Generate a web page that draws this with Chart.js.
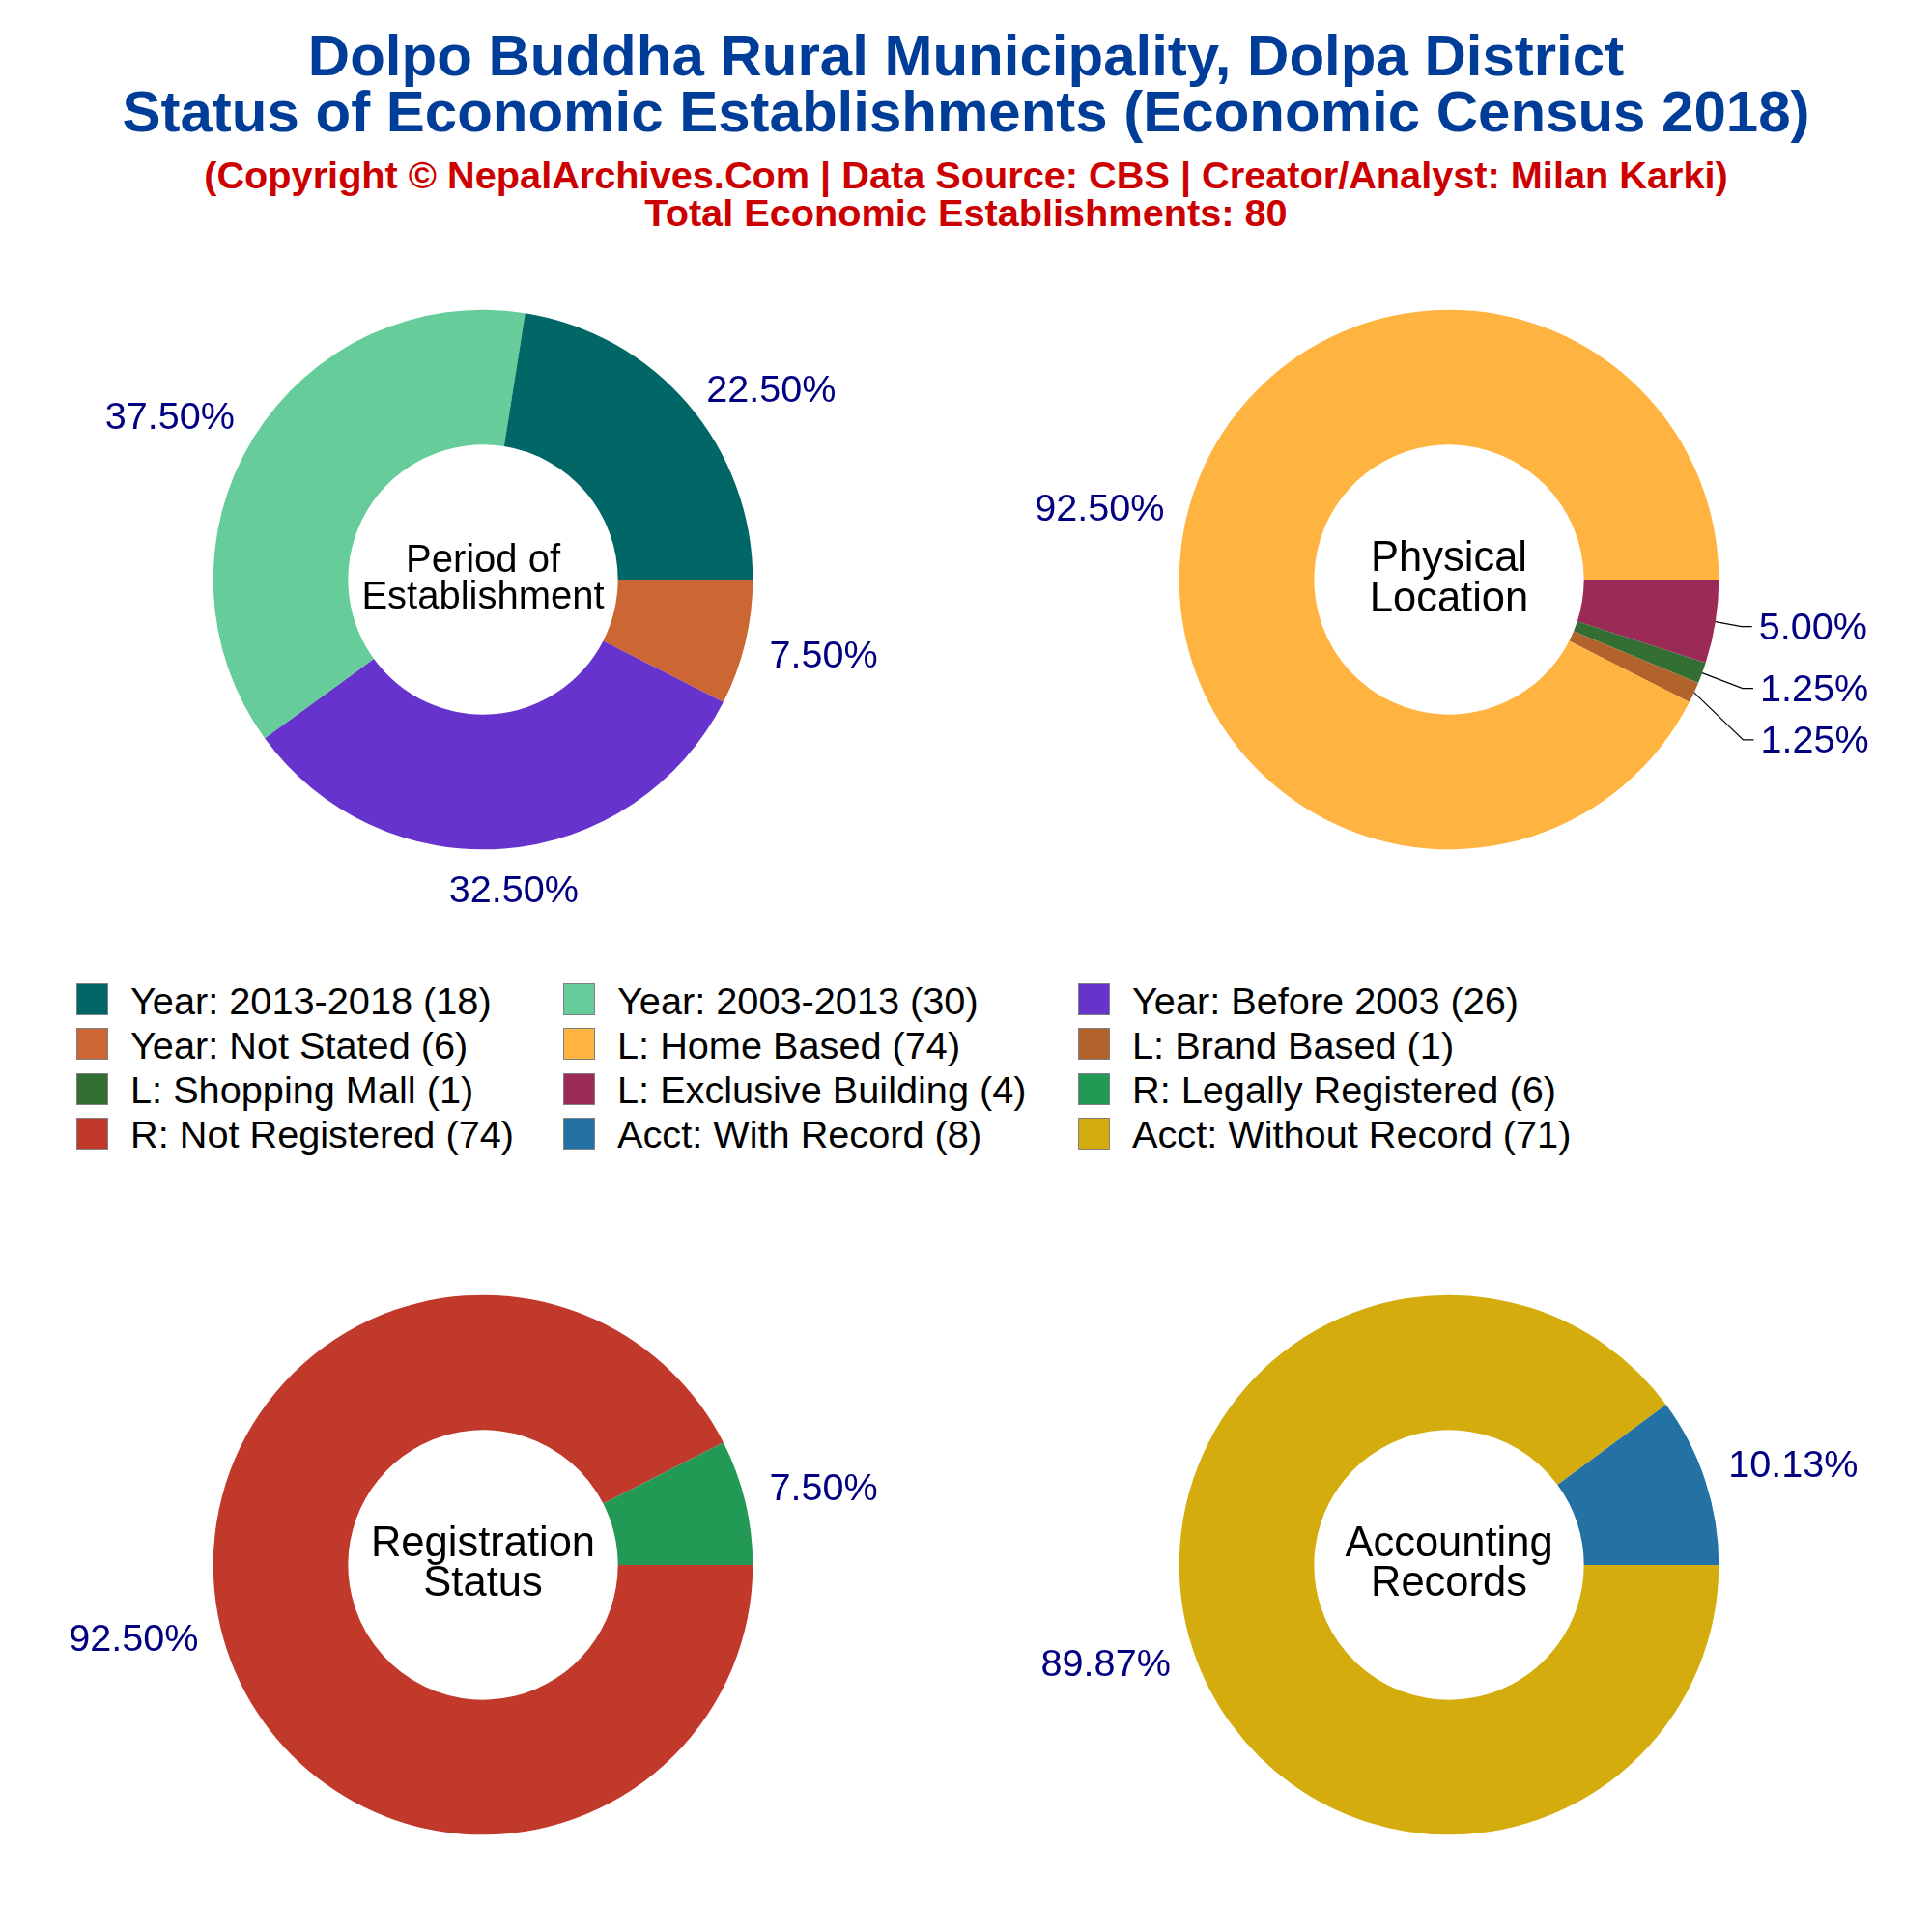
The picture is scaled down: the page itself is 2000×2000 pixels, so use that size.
<!DOCTYPE html>
<html>
<head>
<meta charset="utf-8">
<title>Dolpo Buddha Rural Municipality</title>
<script src="https://cdn.jsdelivr.net/npm/chart.js@4"></script>
<style>
  html, body { margin: 0; padding: 0; background: #fff; }
  #page { position: relative; width: 2000px; height: 2000px; overflow: hidden; font-family: "Liberation Sans", Arial, sans-serif; }
  #page canvas { position: absolute; }
  .head { position: absolute; left: 0; width: 2000px; text-align: center; font-weight: bold; white-space: nowrap; transform: translateY(-50%); }
  .title { font-size: 60px; color: #003d99; }
  .sub { font-size: 39.7px; color: #cc0000; }
  .key { position: absolute; width: 33px; height: 33px; border: 1px solid #808080; box-sizing: border-box; }
  .keytext { position: absolute; font-size: 39.7px; color: #000; white-space: nowrap; transform: translateY(-50%); }
</style>
</head>
<body>
<div id="page">
  <div class="head title" style="top:57px">Dolpo Buddha Rural Municipality, Dolpa District</div>
  <div class="head title" style="top:115px">Status of Economic Establishments (Economic Census 2018)</div>
  <div class="head sub" style="top:181px">(Copyright © NepalArchives.Com | Data Source: CBS | Creator/Analyst: Milan Karki)</div>
  <div class="head sub" style="top:220px">Total Economic Establishments: 80</div>
</div>
<script>
// categories, values and colours of each donut, in counter-clockwise order from 3 o'clock
const periodLabels = ['Year: 2013-2018', 'Year: 2003-2013', 'Year: Before 2003', 'Year: Not Stated'];
const periodValues = [18, 30, 26, 6];
const periodColors = ['#006666', '#66cc99', '#6633cc', '#cc6633'];

const locationLabels = ['L: Home Based', 'L: Brand Based', 'L: Shopping Mall', 'L: Exclusive Building'];
const locationValues = [74, 1, 1, 4];
const locationColors = ['#ffb340', '#b2622b', '#336e33', '#9b2a56'];

const registerLabels = ['R: Legally Registered', 'R: Not Registered'];
const registerValues = [6, 74];
const registerColors = ['#229954', '#c0392b'];

const accountLabels = ['Acct: With Record', 'Acct: Without Record'];
const accountValues = [8, 71];
const accountColors = ['#2471a3', '#d4ac0d'];

const page = document.getElementById('page');

// percent labels: text centre relative to the outer middle of its slice
const percentLabels = {
  id: 'percentLabels',
  afterDraw(chart, args, opts) {
    const ctx = chart.ctx;
    const arcs = chart.getDatasetMeta(0).data;
    const values = chart.data.datasets[0].data;
    const total = values.reduce((a, b) => a + b, 0);
    ctx.save();
    ctx.font = '39.6px "Liberation Sans"';
    ctx.textAlign = 'center';
    ctx.textBaseline = 'middle';
    arcs.forEach((arc, i) => {
      const mid = (arc.startAngle + arc.endAngle) / 2;
      const px = arc.x + Math.cos(mid) * arc.outerRadius;
      const py = arc.y + Math.sin(mid) * arc.outerRadius;
      const x = px + opts.nudges[i][0];
      const y = py + opts.nudges[i][1];
      const text = (values[i] / total * 100).toFixed(2) + '%';
      if (opts.leaders[i]) {
        const left = x - ctx.measureText(text).width / 2;
        ctx.strokeStyle = '#000';
        ctx.lineWidth = 1.2;
        ctx.beginPath();
        ctx.moveTo(px, py);
        ctx.lineTo(left - 18, y);
        ctx.lineTo(left - 7, y);
        ctx.stroke();
      }
      ctx.fillStyle = '#000080';
      ctx.fillText(text, x, y + 2.5);
    });
    ctx.restore();
  }
};

// two lines of text inside the hole
const centerText = {
  id: 'centerText',
  afterDraw(chart, args, opts) {
    const ctx = chart.ctx;
    const arc = chart.getDatasetMeta(0).data[0];
    ctx.save();
    ctx.font = opts.size + 'px "Liberation Sans"';
    ctx.fillStyle = '#000';
    ctx.textAlign = 'center';
    ctx.textBaseline = 'middle';
    ctx.fillText(opts.lines[0], arc.x, arc.y - opts.up);
    ctx.fillText(opts.lines[1], arc.x, arc.y + opts.down);
    ctx.restore();
  }
};

function drawDonut(left, top, labels, values, colors, lines, size, up, down, nudges, leaders) {
  const canvas = document.createElement('canvas');
  canvas.width = 1000;
  canvas.height = 760;
  canvas.style.left = left + 'px';
  canvas.style.top = top + 'px';
  canvas.style.width = '1000px';
  canvas.style.height = '760px';
  page.appendChild(canvas);

  // Chart.js goes clockwise, the picture counter-clockwise: reverse and start at 3 o'clock
  new Chart(canvas, {
    type: 'doughnut',
    data: {
      labels: labels.slice().reverse(),
      datasets: [{
        data: values.slice().reverse(),
        backgroundColor: colors.slice().reverse(),
        borderWidth: 0
      }]
    },
    options: {
      responsive: false,
      devicePixelRatio: 1,
      animation: false,
      rotation: 90,
      cutout: '50%',
      layout: { padding: 100.7 },
      events: [],
      plugins: {
        legend: { display: false },
        tooltip: { enabled: false },
        percentLabels: { nudges: nudges.slice().reverse(), leaders: leaders.slice().reverse() },
        centerText: { lines, size, up, down }
      }
    },
    plugins: [percentLabels, centerText]
  });
}

drawDonut(0, 220, periodLabels, periodValues, periodColors, ['Period of', 'Establishment'], 40, 19.5, 18.5,
  [[86, -16], [-86, -23], [10, 42], [81, 12]], [false, false, false, false]);
drawDonut(1000, 220, locationLabels, locationValues, locationColors, ['Physical', 'Location'], 43.5, 21.5, 20.5,
  [[-90, -9], [125, 49], [116, 16], [101, 5]], [false, true, true, true]);
drawDonut(0, 1240, registerLabels, registerValues, registerColors, ['Registration', 'Status'], 43.5, 21.5, 20,
  [[81, -15], [-90, 10]], [false, false]);
drawDonut(1000, 1240, accountLabels, accountValues, accountColors, ['Accounting', 'Records'], 43.5, 21.5, 20,
  [[91, -17], [-90, 14]], [false, false]);

// legend, row by row
const legendLabels = periodLabels.concat(locationLabels, registerLabels, accountLabels);
const legendValues = periodValues.concat(locationValues, registerValues, accountValues);
const legendColors = periodColors.concat(locationColors, registerColors, accountColors);
const keyX = [79, 583, 1116];
legendLabels.forEach((label, i) => {
  const col = i % 3;
  const row = Math.floor(i / 3);
  const key = document.createElement('div');
  key.className = 'key';
  key.style.left = keyX[col] + 'px';
  key.style.top = (1018 + row * 46.3) + 'px';
  key.style.background = legendColors[i];
  page.appendChild(key);
  const text = document.createElement('div');
  text.className = 'keytext';
  text.style.left = (keyX[col] + 56) + 'px';
  text.style.top = (1035.5 + row * 46.3) + 'px';
  text.textContent = label + ' (' + legendValues[i] + ')';
  page.appendChild(text);
});
</script>
</body>
</html>
